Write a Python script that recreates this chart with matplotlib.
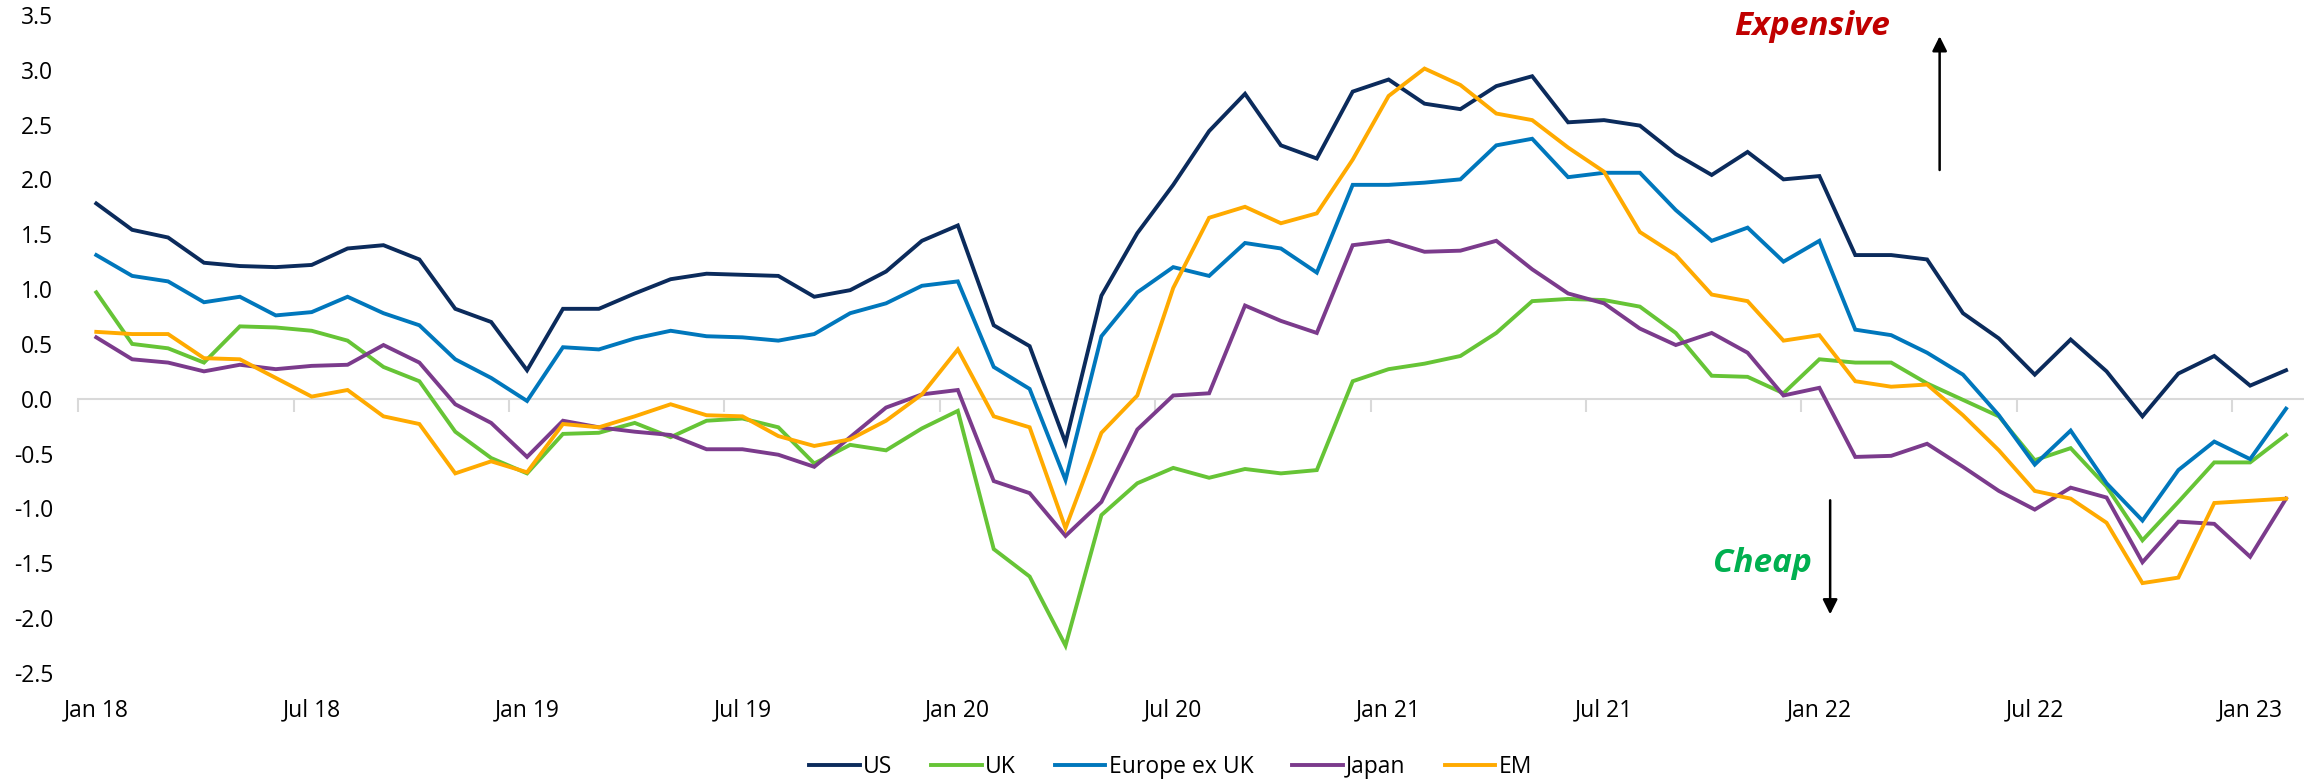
import matplotlib
matplotlib.use("Agg")
import matplotlib.pyplot as plt
from matplotlib.ticker import FormatStrFormatter, FixedLocator, NullFormatter

plt.rcParams['font.family'] = ['Open Sans', 'DejaVu Sans']

# monthly, Jan 2018 .. Feb 2023
months = ['Jan', 'Feb', 'Mar', 'Apr', 'May', 'Jun', 'Jul', 'Aug', 'Sep', 'Oct', 'Nov', 'Dec']
dates = [f"{m} {y}" for y in range(18, 24) for m in months][:62]

us = [1.78, 1.54, 1.47, 1.24, 1.21, 1.20, 1.22, 1.37, 1.40, 1.27,
      0.82, 0.70, 0.26, 0.82, 0.82, 0.96, 1.09, 1.14, 1.13, 1.12,
      0.93, 0.99, 1.16, 1.44, 1.58, 0.67, 0.48, -0.40, 0.94, 1.51,
      1.95, 2.44, 2.78, 2.31, 2.19, 2.80, 2.91, 2.69, 2.64, 2.85,
      2.94, 2.52, 2.54, 2.49, 2.23, 2.04, 2.25, 2.00, 2.03, 1.31,
      1.31, 1.27, 0.78, 0.55, 0.22, 0.54, 0.25, -0.16, 0.23, 0.39,
      0.12, 0.26]
uk = [0.97, 0.50, 0.46, 0.33, 0.66, 0.65, 0.62, 0.53, 0.29, 0.16,
      -0.30, -0.54, -0.68, -0.32, -0.31, -0.22, -0.35, -0.20, -0.18, -0.26,
      -0.59, -0.42, -0.47, -0.27, -0.11, -1.37, -1.62, -2.25, -1.06, -0.77,
      -0.63, -0.72, -0.64, -0.68, -0.65, 0.16, 0.27, 0.32, 0.39, 0.60,
      0.89, 0.91, 0.90, 0.84, 0.60, 0.21, 0.20, 0.05, 0.36, 0.33,
      0.33, 0.14, -0.01, -0.16, -0.56, -0.45, -0.80, -1.29, -0.94, -0.58,
      -0.58, -0.33]
europe = [1.31, 1.12, 1.07, 0.88, 0.93, 0.76, 0.79, 0.93, 0.78, 0.67,
          0.36, 0.19, -0.02, 0.47, 0.45, 0.55, 0.62, 0.57, 0.56, 0.53,
          0.59, 0.78, 0.87, 1.03, 1.07, 0.29, 0.09, -0.74, 0.57, 0.97,
          1.20, 1.12, 1.42, 1.37, 1.15, 1.95, 1.95, 1.97, 2.00, 2.31,
          2.37, 2.02, 2.06, 2.06, 1.72, 1.44, 1.56, 1.25, 1.44, 0.63,
          0.58, 0.42, 0.22, -0.15, -0.60, -0.29, -0.77, -1.11, -0.65, -0.39,
          -0.55, -0.09]
japan = [0.56, 0.36, 0.33, 0.25, 0.31, 0.27, 0.30, 0.31, 0.49, 0.33,
         -0.05, -0.22, -0.53, -0.20, -0.26, -0.30, -0.33, -0.46, -0.46, -0.51,
         -0.62, -0.35, -0.08, 0.04, 0.08, -0.75, -0.86, -1.25, -0.94, -0.28,
         0.03, 0.05, 0.85, 0.71, 0.60, 1.40, 1.44, 1.34, 1.35, 1.44,
         1.18, 0.96, 0.87, 0.64, 0.49, 0.60, 0.42, 0.03, 0.10, -0.53,
         -0.52, -0.41, -0.62, -0.84, -1.01, -0.81, -0.90, -1.49, -1.12, -1.14,
         -1.44, -0.91]
em = [0.61, 0.59, 0.59, 0.37, 0.36, 0.19, 0.02, 0.08, -0.16, -0.23,
      -0.68, -0.57, -0.67, -0.23, -0.26, -0.16, -0.05, -0.15, -0.16, -0.34,
      -0.43, -0.37, -0.20, 0.04, 0.45, -0.16, -0.26, -1.18, -0.31, 0.03,
      1.01, 1.65, 1.75, 1.60, 1.69, 2.18, 2.76, 3.01, 2.86, 2.60,
      2.54, 2.29, 2.07, 1.52, 1.31, 0.95, 0.89, 0.53, 0.58, 0.16,
      0.11, 0.13, -0.15, -0.47, -0.84, -0.91, -1.13, -1.68, -1.63, -0.95,
      -0.93, -0.91]

series = [('US', us, '#0B2B5C'),
          ('UK', uk, '#66C436'),
          ('Europe ex UK', europe, '#0077BC'),
          ('Japan', japan, '#7B3B8C'),
          ('EM', em, '#FFAA00')]

fig = plt.figure(figsize=(23.04, 7.79), dpi=100)
ax = fig.add_axes([0.034, 0.136, 0.966, 0.845])

x = list(range(len(dates)))
for name, vals, col in series:
    ax.plot(x, vals, color=col, lw=2.8, label=name, solid_joinstyle='miter')

ax.set_xlim(-0.5, len(dates) - 0.5)
ax.set_ylim(-2.5, 3.5)

# labels every 6 months, centred on the month
lab_pos = x[::6]
ax.set_xticks(lab_pos)
ax.set_xticklabels([dates[i] for i in lab_pos], fontsize=16.5)
ax.tick_params(axis='x', length=0, pad=18)
ax.set_yticks([-2.5, -2.0, -1.5, -1.0, -0.5, 0.0, 0.5, 1.0, 1.5, 2.0, 2.5, 3.0, 3.5])
ax.yaxis.set_major_formatter(FormatStrFormatter('%.1f'))
ax.tick_params(axis='y', length=0, pad=18, labelsize=16.5)

for s in ax.spines.values():
    s.set_visible(False)

# zero line with tick marks between categories
zero_frac = (0 - ax.get_ylim()[0]) / (ax.get_ylim()[1] - ax.get_ylim()[0])
sec = ax.secondary_xaxis(zero_frac)
sec.xaxis.set_major_locator(FixedLocator([p - 0.5 for p in lab_pos]))
sec.xaxis.set_major_formatter(NullFormatter())
sec.xaxis.set_ticks_position('bottom')
sec.tick_params(axis='x', direction='out', length=9, width=1.5, color='#D9D9D9',
                labelbottom=False, labeltop=False)
for side in ('bottom', 'top'):
    sec.spines[side].set_color('#D9D9D9')
    sec.spines[side].set_linewidth(1.5)
ax.set_zorder(2)
ax.patch.set_alpha(0)

ax.text(47.8, 3.39, 'Expensive', color='#C00000', fontsize=24, fontweight='bold', fontstyle='italic',
        ha='center', va='center')
ax.annotate('', xy=(51.35, 3.33), xytext=(51.35, 2.06),
            arrowprops=dict(arrowstyle='-|>', color='black', lw=1.8, mutation_scale=22))
ax.text(46.4, -1.50, 'Cheap', color='#00B050', fontsize=24, fontweight='bold', fontstyle='italic',
        ha='center', va='center')
ax.annotate('', xy=(48.3, -1.99), xytext=(48.3, -0.90),
            arrowprops=dict(arrowstyle='-|>', color='black', lw=1.8, mutation_scale=22))

fig.legend(loc='center', bbox_to_anchor=(0.508, 0.016), ncol=5, frameon=False, fontsize=16.5,
           handlelength=2.2, handletextpad=0.15, columnspacing=1.7)

fig.savefig('out.png', dpi=100)
